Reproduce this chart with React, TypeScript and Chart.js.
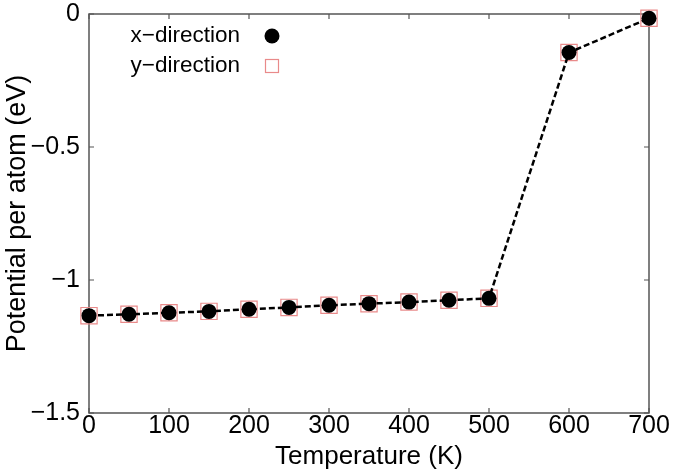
import React, { useEffect, useRef } from "react";
import { Chart, registerables } from "chart.js";

Chart.register(...registerables);

const temperatures = [0, 50, 100, 150, 200, 250, 300, 350, 400, 450, 500, 600, 700];
const xDirection = [-1.134, -1.129, -1.123, -1.118, -1.110, -1.103, -1.095, -1.089, -1.083, -1.076, -1.069, -0.145, -0.016];
const yDirection = [-1.134, -1.129, -1.123, -1.118, -1.110, -1.103, -1.095, -1.089, -1.083, -1.076, -1.069, -0.145, -0.016];
const xTicks = [0, 100, 200, 300, 400, 500, 600, 700];
const yTicks = [0, -0.5, -1, -1.5];
const seriesNames = ["x\u2212direction", "y\u2212direction"];
const xTitle = "Temperature (K)";
const yTitle = "Potential per atom (eV)";

const FONT = "'Liberation Sans', Arial, Helvetica, sans-serif";
const AXIS_COLOR = "#555";
const SQUARE_COLOR = "#e98a8a";

const fmt = (v: number) => {
  const s = String(Math.abs(v));
  return v < 0 ? "\u2212" + s : s;
};

const framePlugin = {
  id: "frame",
  beforeDatasetsDraw(chart: any) {
    const { ctx, chartArea } = chart;
    const { left, right, top, bottom } = chartArea;
    const xs = chart.scales.x;
    const ys = chart.scales.y;
    ctx.save();
    ctx.strokeStyle = AXIS_COLOR;
    ctx.lineWidth = 1.5;
    ctx.strokeRect(left, top, right - left, bottom - top);
    ctx.lineWidth = 1.2;
    const tl = 5;
    ctx.beginPath();
    xTicks.forEach((t) => {
      const px = xs.getPixelForValue(t);
      ctx.moveTo(px, bottom);
      ctx.lineTo(px, bottom - tl);
      ctx.moveTo(px, top);
      ctx.lineTo(px, top + tl);
    });
    yTicks.forEach((t) => {
      const py = ys.getPixelForValue(t);
      ctx.moveTo(left, py);
      ctx.lineTo(left + tl, py);
      ctx.moveTo(right, py);
      ctx.lineTo(right - tl, py);
    });
    ctx.stroke();
    ctx.restore();
  },
  afterDraw(chart: any) {
    const { ctx } = chart;
    ctx.save();
    ctx.font = `22.5px ${FONT}`;
    ctx.fillStyle = "#000";
    ctx.textAlign = "right";
    ctx.textBaseline = "middle";
    const textRight = 240;
    const markerX = 272;
    const rows = [36, 66];
    ctx.fillText(seriesNames[0], textRight, rows[0]);
    ctx.fillText(seriesNames[1], textRight, rows[1]);
    ctx.beginPath();
    ctx.arc(markerX, rows[0], 7.5, 0, Math.PI * 2);
    ctx.fillStyle = "#000";
    ctx.fill();
    ctx.strokeStyle = SQUARE_COLOR;
    ctx.lineWidth = 1.2;
    ctx.strokeRect(markerX - 6.5, rows[1] - 6.5, 13, 13);
    ctx.restore();
  },
};

export default function App() {
  const ref = useRef<HTMLCanvasElement | null>(null);
  useEffect(() => {
    if (!ref.current) return;
    const chart = new Chart(ref.current, {
      type: "line",
      data: {
        datasets: [
          {
            label: seriesNames[1],
            data: temperatures.map((t, i) => ({ x: t, y: yDirection[i] })),
            showLine: false,
            pointStyle: "rect",
            pointRadius: 11.5,
            pointBackgroundColor: "rgba(0,0,0,0)",
            pointBorderColor: SQUARE_COLOR,
            pointBorderWidth: 1.2,
            clip: false,
            order: 2,
          },
          {
            label: seriesNames[0],
            data: temperatures.map((t, i) => ({ x: t, y: xDirection[i] })),
            borderColor: "#000",
            borderWidth: 2.5,
            borderDash: [6, 3],
            pointStyle: "circle",
            pointRadius: 7.5,
            pointBackgroundColor: "#000",
            pointBorderColor: "#000",
            pointBorderWidth: 0,
            tension: 0,
            clip: false,
            order: 1,
          },
        ],
      },
      options: {
        animation: false,
        responsive: false,
        maintainAspectRatio: false,
        layout: { padding: { left: 0, right: 26, top: 14, bottom: 0 } },
        plugins: { legend: { display: false }, tooltip: { enabled: false } },
        scales: {
          x: {
            type: "linear",
            min: 0,
            max: 700,
            afterBuildTicks: (s: any) => {
              s.ticks = xTicks.map((v) => ({ value: v }));
            },
            afterFit: (s: any) => {
              s.height = 58;
              s.paddingLeft = 0;
              s.paddingRight = 0;
            },
            grid: { display: false, drawTicks: false },
            border: { display: false },
            ticks: {
              autoSkip: false,
              maxRotation: 0,
              padding: 1,
              color: "#000",
              font: { family: FONT, size: 25, lineHeight: 1.0 },
              callback: (v: any) => fmt(Number(v)),
            },
            title: {
              display: true,
              text: xTitle,
              color: "#000",
              font: { family: FONT, size: 26, lineHeight: 1.0 },
              padding: { top: 0, bottom: 1 },
            },
          },
          y: {
            type: "linear",
            min: -1.5,
            max: 0,
            afterBuildTicks: (s: any) => {
              s.ticks = yTicks.map((v) => ({ value: v }));
            },
            afterFit: (s: any) => {
              s.width = 89;
              s.paddingTop = 0;
              s.paddingBottom = 0;
            },
            grid: { display: false, drawTicks: false },
            border: { display: false },
            ticks: {
              autoSkip: false,
              padding: 9,
              color: "#000",
              font: { family: FONT, size: 25 },
              callback: (v: any) => fmt(Number(v)),
            },
            title: {
              display: true,
              text: yTitle,
              color: "#000",
              font: { family: FONT, size: 27, lineHeight: 1.0 },
              padding: { top: 4, bottom: 0 },
            },
          },
        },
      },
      plugins: [framePlugin],
    } as any);
    return () => chart.destroy();
  }, []);
  return (
    <div style={{ position: "fixed", left: 0, top: 0, width: 675, height: 471, background: "#fff" }}>
      <canvas ref={ref} width={675} height={471} style={{ display: "block" }} />
    </div>
  );
}
